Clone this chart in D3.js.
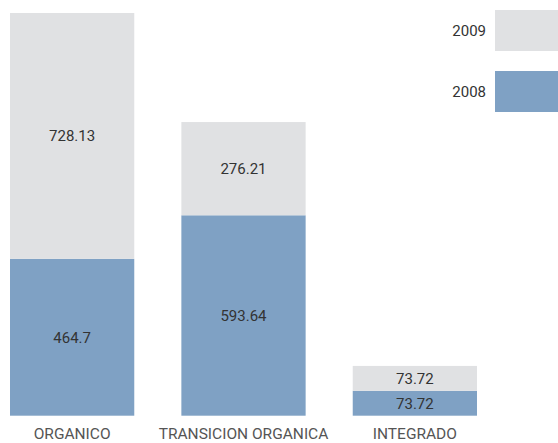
<!DOCTYPE html>
<html>
<head>
<meta charset="utf-8">
<script src="https://cdn.jsdelivr.net/npm/d3@7"></script>
<style>
  body { margin: 0; background: #fff; }
  text { font-family: Roboto, "DejaVu Sans", sans-serif; }
</style>
</head>
<body>
<div id="chart"></div>
<script>
// data
var categories = ["ORGANICO", "TRANSICION ORGANICA", "INTEGRADO"];
var years = ["2008", "2009"];
var values2008 = [464.7, 593.64, 73.72];
var values2009 = [728.13, 276.21, 73.72];

var width = 558;
var height = 443;
var color2008 = "#7fa1c4";
var color2009 = "#e0e1e3";

var svg = d3.select("#chart").append("svg")
  .attr("width", width)
  .attr("height", height);

var rows = categories.map(function(c, i) {
  return {cat: c, "2008": values2008[i], "2009": values2009[i]};
});

var stack = d3.stack().keys(years);
var series = stack(rows);

var x = d3.scaleBand()
  .domain(categories)
  .range([10, 477])
  .paddingInner(47 / 171)
  .paddingOuter(0);

var maxTotal = d3.max(rows, function(d) { return d["2008"] + d["2009"]; });
var y = d3.scaleLinear()
  .domain([0, maxTotal])
  .range([415.7, 13]);

var colors = d3.scaleOrdinal().domain(years).range([color2008, color2009]);

var groups = svg.selectAll(".serie")
  .data(series)
  .enter().append("g")
  .attr("class", "serie")
  .attr("fill", function(d) { return colors(d.key); });

groups.selectAll("rect")
  .data(function(d) { return d; })
  .enter().append("rect")
  .attr("x", function(d) { return x(d.data.cat); })
  .attr("width", x.bandwidth())
  .attr("y", function(d) { return y(d[1]); })
  .attr("height", function(d) { return y(d[0]) - y(d[1]); });

//value labels in the middle of each segment
groups.selectAll("text")
  .data(function(d) { return d.map(function(p) { return {p: p, key: d.key}; }); })
  .enter().append("text")
  .attr("x", function(d) { return x(d.p.data.cat) + x.bandwidth() / 2; })
  .attr("y", function(d) { return (y(d.p[0]) + y(d.p[1])) / 2; })
  .attr("dy", "0.35em")
  .attr("text-anchor", "middle")
  .attr("fill", "#333")
  .style("font-size", "15px")
  .text(function(d) { return d.p.data[d.key]; });

//category axis, no line or ticks
var xAxis = svg.append("g")
  .attr("transform", "translate(0,415.7)")
  .call(d3.axisBottom(x).tickSize(0).tickPadding(12));
xAxis.select(".domain").remove();
xAxis.selectAll("text")
  .attr("fill", "#555")
  .style("font-family", "Roboto, 'DejaVu Sans', sans-serif")
  .style("font-size", "15.5px");

//legend
var legendYears = ["2009", "2008"];
var legend = svg.selectAll(".legendItem")
  .data(legendYears)
  .enter().append("g")
  .attr("class", "legendItem")
  .attr("transform", function(d, i) { return "translate(495," + (10 + i * 61) + ")"; });

legend.append("rect")
  .attr("width", 70)
  .attr("height", 41)
  .attr("fill", function(d) { return colors(d); });

legend.append("text")
  .attr("x", -9)
  .attr("y", 20.5)
  .attr("dy", "0.35em")
  .attr("text-anchor", "end")
  .attr("fill", "#333")
  .style("font-size", "15px")
  .text(function(d) { return d; });
</script>
</body>
</html>
